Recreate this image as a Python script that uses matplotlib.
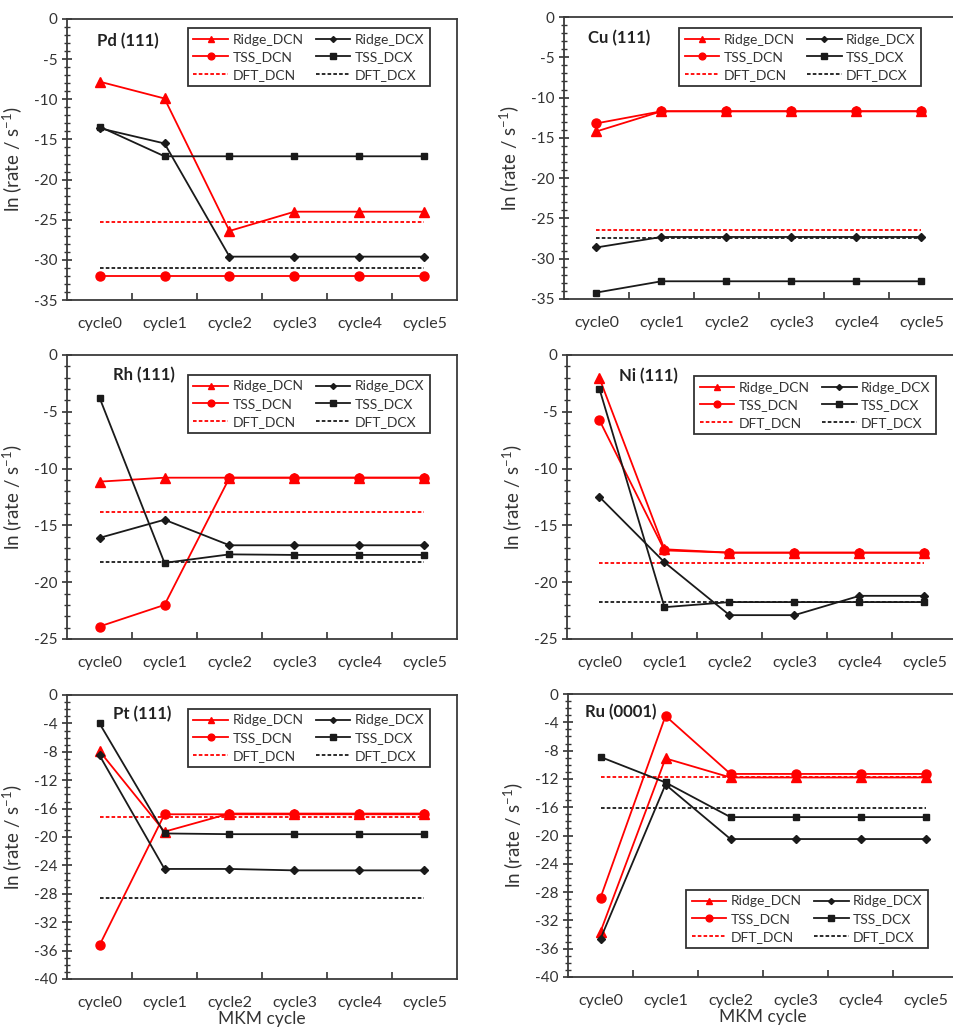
import matplotlib
matplotlib.use("Agg")
import matplotlib.pyplot as plt
from matplotlib.ticker import MultipleLocator

plt.rcParams['font.family'] = ['Lato', 'DejaVu Sans']
plt.rcParams['axes.unicode_minus'] = False
plt.rcParams['mathtext.fontset'] = 'custom'
plt.rcParams['mathtext.rm'] = 'Lato'

cycles = ["cycle0", "cycle1", "cycle2", "cycle3", "cycle4", "cycle5"]
series_names = ["Ridge_DCN", "TSS_DCN", "DFT_DCN", "Ridge_DCX", "TSS_DCX", "DFT_DCX"]

# Pd (111)
pd_ridge_dcn = [-7.8, -9.9, -26.4, -24.0, -24.0, -24.0]
pd_ridge_dcx = [-13.6, -15.5, -29.6, -29.6, -29.6, -29.6]
pd_tss_dcn = [-32.0, -32.0, -32.0, -32.0, -32.0, -32.0]
pd_tss_dcx = [-13.4, -17.1, -17.1, -17.1, -17.1, -17.1]
pd_dft_dcn = -25.3
pd_dft_dcx = -31.0

# Cu (111)
cu_ridge_dcn = [-14.2, -11.7, -11.7, -11.7, -11.7, -11.7]
cu_ridge_dcx = [-28.6, -27.3, -27.3, -27.3, -27.3, -27.3]
cu_tss_dcn = [-13.2, -11.7, -11.7, -11.7, -11.7, -11.7]
cu_tss_dcx = [-34.2, -32.8, -32.8, -32.8, -32.8, -32.8]
cu_dft_dcn = -26.4
cu_dft_dcx = -27.4

# Rh (111)
rh_ridge_dcn = [-11.15, -10.8, -10.8, -10.8, -10.8, -10.8]
rh_ridge_dcx = [-16.1, -14.5, -16.75, -16.75, -16.75, -16.75]
rh_tss_dcn = [-23.9, -22.0, -10.8, -10.8, -10.8, -10.8]
rh_tss_dcx = [-3.75, -18.3, -17.55, -17.6, -17.6, -17.6]
rh_dft_dcn = -13.8
rh_dft_dcx = -18.25

# Ni (111)
ni_ridge_dcn = [-2.05, -17.1, -17.4, -17.4, -17.4, -17.4]
ni_ridge_dcx = [-12.5, -18.25, -22.9, -22.9, -21.2, -21.2]
ni_tss_dcn = [-5.75, -17.2, -17.4, -17.4, -17.4, -17.4]
ni_tss_dcx = [-3.0, -22.2, -21.75, -21.75, -21.75, -21.75]
ni_dft_dcn = -18.3
ni_dft_dcx = -21.7

# Pt (111)
pt_ridge_dcn = [-7.9, -19.25, -16.7, -16.7, -16.7, -16.7]
pt_ridge_dcx = [-8.5, -24.5, -24.5, -24.7, -24.7, -24.7]
pt_tss_dcn = [-35.25, -16.8, -16.8, -16.8, -16.8, -16.8]
pt_tss_dcx = [-4.0, -19.5, -19.6, -19.6, -19.6, -19.6]
pt_dft_dcn = -17.2
pt_dft_dcx = -28.6

# Ru (0001)
ru_ridge_dcn = [-33.6, -9.1, -11.8, -11.8, -11.8, -11.8]
ru_ridge_dcx = [-34.6, -12.8, -20.5, -20.5, -20.5, -20.5]
ru_tss_dcn = [-28.8, -3.1, -11.3, -11.3, -11.3, -11.3]
ru_tss_dcx = [-8.9, -12.5, -17.4, -17.4, -17.4, -17.4]
ru_dft_dcn = -11.8
ru_dft_dcx = -16.1

RED = '#FF0000'
BLK = '#1a1a1a'
TXT = '#333333'

fig = plt.figure(figsize=(9.54, 10.29), dpi=100)
W, H = 954, 1029

def axes_px(left, top, bottom, width=390):
    return fig.add_axes([left / W, (H - bottom) / H, width / W, (bottom - top) / H])

panels = [
    dict(name="Pd (111)", rect=(67, 19, 300), ylim=(-35, 0), step=5,
         data=(pd_ridge_dcn, pd_tss_dcn, pd_dft_dcn, pd_ridge_dcx, pd_tss_dcx, pd_dft_dcx),
         title_xy=(0.077, 0.92), leg=('upper right', (0.93, 0.968)), xlabel=False),
    dict(name="Cu (111)", rect=(564, 17, 299), ylim=(-35, 0), step=5,
         data=(cu_ridge_dcn, cu_tss_dcn, cu_dft_dcn, cu_ridge_dcx, cu_tss_dcx, cu_dft_dcx),
         title_xy=(0.062, 0.926), leg=('upper right', (0.915, 0.961)), xlabel=False),
    dict(name="Rh (111)", rect=(67, 355, 639), ylim=(-25, 0), step=5,
         data=(rh_ridge_dcn, rh_tss_dcn, rh_dft_dcn, rh_ridge_dcx, rh_tss_dcx, rh_dft_dcx),
         title_xy=(0.118, 0.93), leg=('upper right', (0.93, 0.93)), xlabel=False),
    dict(name="Ni (111)", rect=(567, 355, 639), ylim=(-25, 0), step=5,
         data=(ni_ridge_dcn, ni_tss_dcn, ni_dft_dcn, ni_ridge_dcx, ni_tss_dcx, ni_dft_dcx),
         title_xy=(0.133, 0.926), leg=('upper right', (0.946, 0.926)), xlabel=False),
    dict(name="Pt (111)", rect=(67, 695, 979), ylim=(-40, 0), step=4,
         data=(pt_ridge_dcn, pt_tss_dcn, pt_dft_dcn, pt_ridge_dcx, pt_tss_dcx, pt_dft_dcx),
         title_xy=(0.118, 0.933), leg=('upper right', (0.93, 0.951)), xlabel=True),
    dict(name="Ru (0001)", rect=(568, 694, 977), ylim=(-40, 0), step=4,
         data=(ru_ridge_dcn, ru_tss_dcn, ru_dft_dcn, ru_ridge_dcx, ru_tss_dcx, ru_dft_dcx),
         title_xy=(0.044, 0.936), leg=('lower right', (0.923, 0.102)), xlabel=True),
]

x = list(range(len(cycles)))

for p in panels:
    ax = axes_px(*p["rect"])
    rdcn, tdcn, ddcn, rdcx, tdcx, ddcx = p["data"]
    lw = 1.3
    h = []
    h.append(ax.plot(x, rdcn, color=RED, lw=lw, marker='^', ms=6.5, label="Ridge_DCN", zorder=3)[0])
    h.append(ax.plot(x, tdcn, color=RED, lw=lw, marker='o', ms=6.5, label="TSS_DCN", zorder=3)[0])
    h.append(ax.plot([x[0], x[-1]], [ddcn, ddcn], color=RED, lw=1.3, ls=(0, (2, 1.2)), label="DFT_DCN", zorder=2)[0])
    h.append(ax.plot(x, rdcx, color=BLK, lw=lw, marker='D', ms=4, label="Ridge_DCX", zorder=3)[0])
    h.append(ax.plot(x, tdcx, color=BLK, lw=lw, marker='s', ms=5, label="TSS_DCX", zorder=3)[0])
    h.append(ax.plot([x[0], x[-1]], [ddcx, ddcx], color=BLK, lw=1.3, ls=(0, (2, 1.2)), label="DFT_DCX", zorder=2)[0])

    ax.set_xlim(-0.5, len(cycles) - 0.5)
    ax.set_ylim(*p["ylim"])
    ax.yaxis.set_major_locator(MultipleLocator(p["step"]))
    ax.yaxis.set_minor_locator(MultipleLocator(1))
    ax.set_xticks([i + 0.5 for i in range(len(cycles) - 1)])
    ax.set_xticklabels([])
    ax.set_xticks(x, minor=True)
    ax.set_xticklabels(cycles, minor=True, fontsize=11.5, color=TXT)
    ax.tick_params(axis='x', which='major', direction='in', length=5, width=1.2, colors=TXT)
    ax.tick_params(axis='x', which='minor', length=0, pad=12)
    ax.tick_params(axis='y', which='major', direction='inout', length=7, width=1.2,
                   labelsize=11, colors=TXT)
    ax.tick_params(axis='y', which='minor', direction='inout', length=4, width=1.0, colors=TXT)
    for s in ax.spines.values():
        s.set_color('#3a3a3a')
        s.set_linewidth(1.3)
    ax.set_ylabel("ln (rate / s$^{\\mathregular{-1}}$)", fontsize=13.5, color=TXT, labelpad=6)
    if p["xlabel"]:
        ax.set_xlabel("MKM cycle", fontsize=12.5, color=TXT, labelpad=1)
    ax.text(p["title_xy"][0], p["title_xy"][1], p["name"], transform=ax.transAxes,
            fontsize=12, fontweight='bold', ha='left', va='center', color='#222222')
    loc, anchor = p["leg"]
    leg = ax.legend(handles=h, ncol=2, loc=loc, bbox_to_anchor=anchor, fontsize=10,
                    frameon=True, fancybox=False, edgecolor='#333333', framealpha=1,
                    handlelength=2.5, columnspacing=0.9, labelspacing=0.4,
                    handletextpad=0.3, borderpad=0.4, markerscale=0.75, borderaxespad=0)
    leg.get_frame().set_linewidth(1.3)
    for t in leg.get_texts():
        t.set_color(TXT)

fig.savefig("out.png", dpi=100)
